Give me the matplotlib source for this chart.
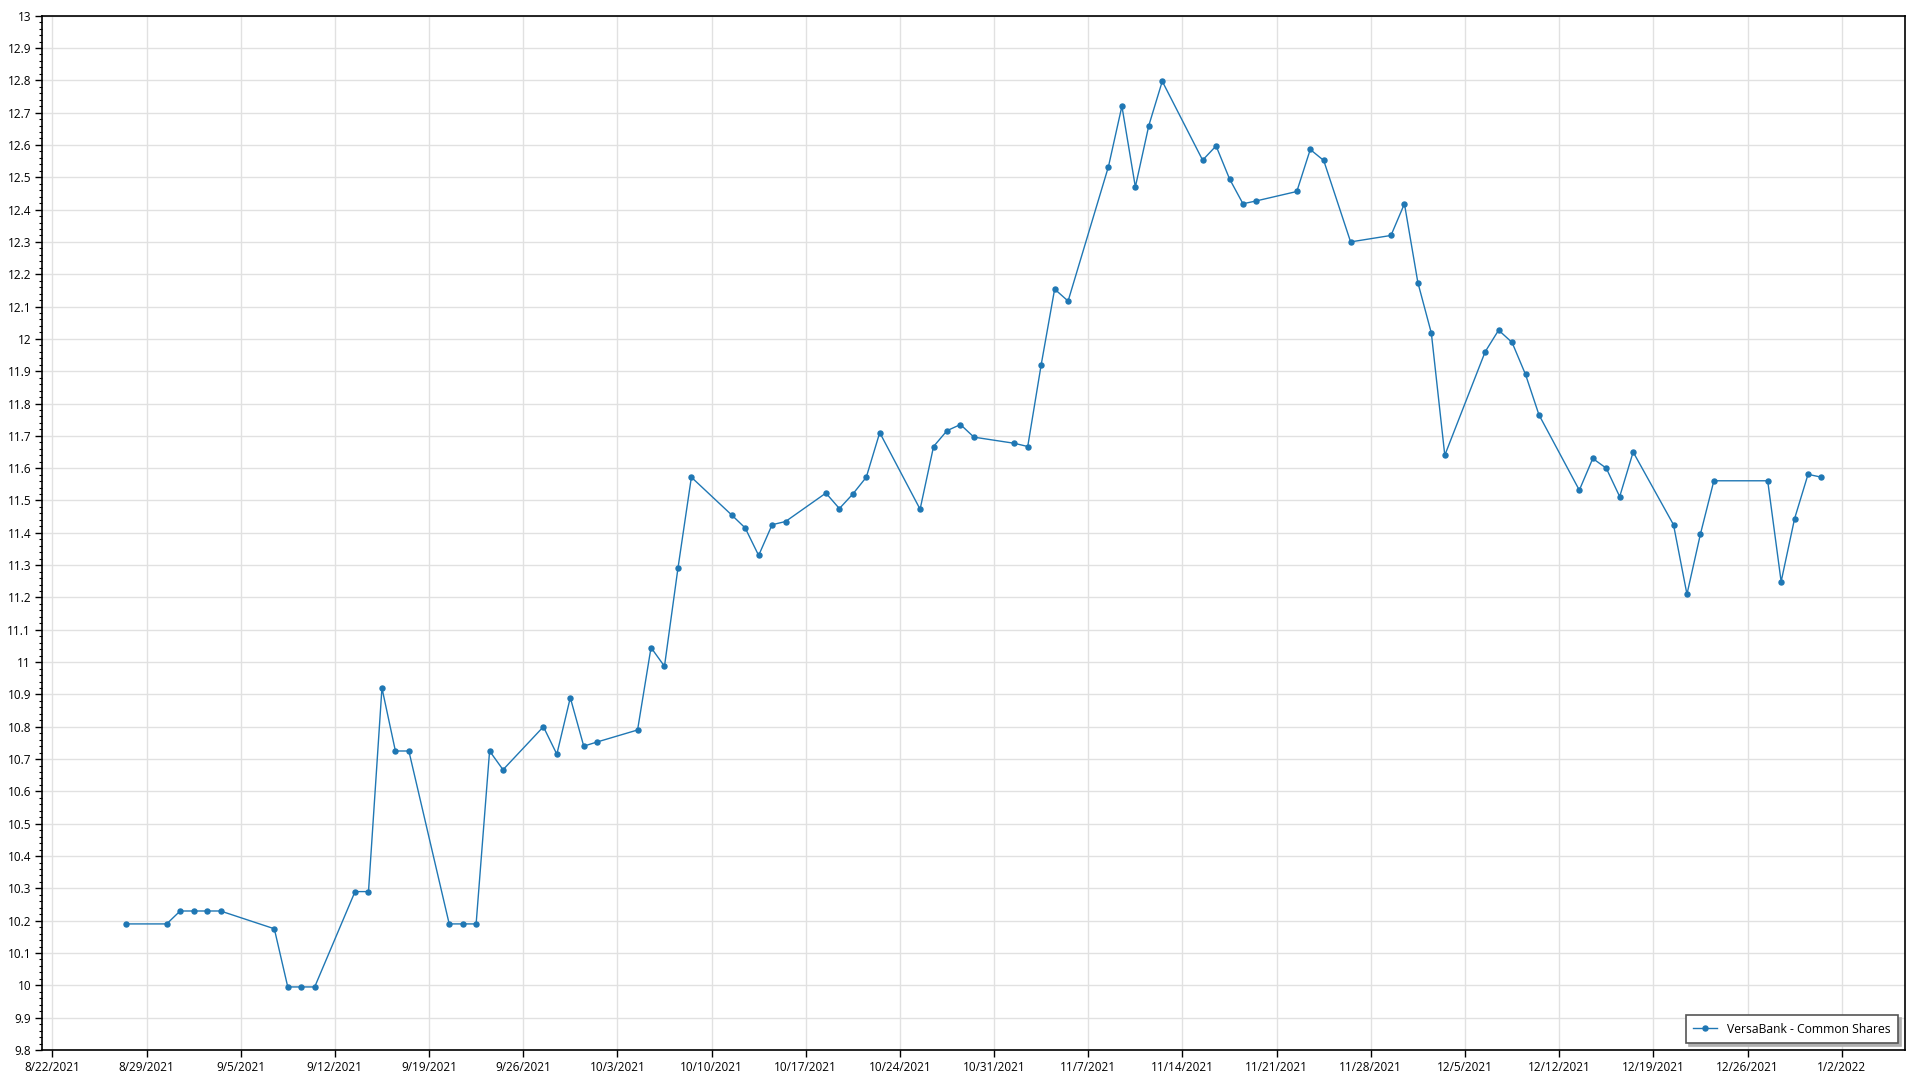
import numpy as np
import pandas as pd
import matplotlib
matplotlib.use("Agg")
from matplotlib import pyplot as plt
import matplotlib.dates as mdates
from matplotlib.ticker import MultipleLocator, FuncFormatter

SERIES_NAME = "VersaBank - Common Shares"

trade_dates = [
    "2021-08-27", "2021-08-30", "2021-08-31", "2021-09-01", "2021-09-02", "2021-09-03",
    "2021-09-07", "2021-09-08", "2021-09-09", "2021-09-10",
    "2021-09-13", "2021-09-14", "2021-09-15", "2021-09-16", "2021-09-17",
    "2021-09-20", "2021-09-21", "2021-09-22", "2021-09-23", "2021-09-24",
    "2021-09-27", "2021-09-28", "2021-09-29", "2021-09-30", "2021-10-01",
    "2021-10-04", "2021-10-05", "2021-10-06", "2021-10-07", "2021-10-08",
    "2021-10-11", "2021-10-12", "2021-10-13", "2021-10-14", "2021-10-15",
    "2021-10-18", "2021-10-19", "2021-10-20", "2021-10-21", "2021-10-22",
    "2021-10-25", "2021-10-26", "2021-10-27", "2021-10-28", "2021-10-29",
    "2021-11-01", "2021-11-02", "2021-11-03", "2021-11-04", "2021-11-05",
    "2021-11-08", "2021-11-09", "2021-11-10", "2021-11-11", "2021-11-12",
    "2021-11-15", "2021-11-16", "2021-11-17", "2021-11-18", "2021-11-19",
    "2021-11-22", "2021-11-23", "2021-11-24", "2021-11-26",
    "2021-11-29", "2021-11-30", "2021-12-01", "2021-12-02", "2021-12-03",
    "2021-12-06", "2021-12-07", "2021-12-08", "2021-12-09", "2021-12-10",
    "2021-12-13", "2021-12-14", "2021-12-15", "2021-12-16", "2021-12-17",
    "2021-12-20", "2021-12-21", "2021-12-22", "2021-12-23",
    "2021-12-27", "2021-12-28", "2021-12-29", "2021-12-30", "2021-12-31",
]

close_prices = [
    10.19, 10.19, 10.23, 10.23, 10.23, 10.23,
    10.175, 9.995, 9.995, 9.995,
    10.29, 10.29, 10.92, 10.725, 10.725,
    10.19, 10.19, 10.19, 10.725, 10.667,
    10.80, 10.715, 10.89, 10.74, 10.753,
    10.79, 11.045, 10.987, 11.29, 11.572,
    11.455, 11.415, 11.33, 11.425, 11.435,
    11.523, 11.475, 11.52, 11.572, 11.71,
    11.473, 11.667, 11.716, 11.735, 11.696,
    11.677, 11.667, 11.92, 12.154, 12.117,
    12.533, 12.72, 12.47, 12.66, 12.797,
    12.553, 12.597, 12.495, 12.418, 12.427,
    12.456, 12.586, 12.552, 12.30,
    12.32, 12.418, 12.174, 12.018, 11.64,
    11.96, 12.027, 11.989, 11.89, 11.765,
    11.532, 11.63, 11.60, 11.512, 11.65,
    11.425, 11.21, 11.396, 11.561,
    11.561, 11.249, 11.444, 11.581, 11.572,
]

# points sit half a day after the date tick
x = pd.to_datetime(trade_dates) + pd.Timedelta(hours=12)

plt.rcParams["font.family"] = ["Open Sans", "DejaVu Sans"]

fig = plt.figure(figsize=(19.2, 10.8), dpi=100)
ax = fig.add_axes([0.022, 0.0278, 0.9702, 0.9577])

ax.plot(x, close_prices, color="#1f77b4", lw=1.0, marker="o", ms=3.6,
        mec="#1f77b4", mfc="#1f77b4", label=SERIES_NAME, zorder=3)

ax.set_ylim(9.8, 13.0)
ax.set_xlim(pd.Timestamp("2021-08-21 06:00"), pd.Timestamp("2022-01-06 17:00"))

ax.yaxis.set_major_locator(MultipleLocator(0.1))
ax.yaxis.set_minor_locator(MultipleLocator(0.02))
ax.yaxis.set_major_formatter(FuncFormatter(lambda v, p: f"{v:g}" if abs(v - round(v)) > 1e-9 else f"{int(round(v))}"))

ax.xaxis.set_major_locator(mdates.WeekdayLocator(byweekday=mdates.SU))
ax.xaxis.set_major_formatter(FuncFormatter(
    lambda v, p: "{d.month}/{d.day}/{d.year}".format(d=mdates.num2date(v))))

ax.tick_params(axis="both", which="major", direction="out", length=5, width=1,
               labelsize=8.5, colors="black", pad=3)
ax.tick_params(axis="y", which="minor", direction="out", length=2.5, width=0.8)

ax.grid(True, which="major", color="#e1e1e1", lw=1.0)
ax.set_axisbelow(True)
for s in ax.spines.values():
    s.set_color("black")
    s.set_linewidth(1.2)

leg = ax.legend(loc="lower right", fontsize=8.7, frameon=True, fancybox=False,
                shadow={"color": "#b0b0b0", "alpha": 1.0}, borderpad=0.6,
                handlelength=2.0, borderaxespad=0,
                bbox_to_anchor=(0.9962, 0.0068))
leg.get_frame().set_edgecolor("#555555")
leg.get_frame().set_linewidth(1.2)
leg.get_frame().set_alpha(1.0)

fig.savefig("out.png", dpi=100, facecolor="white")
